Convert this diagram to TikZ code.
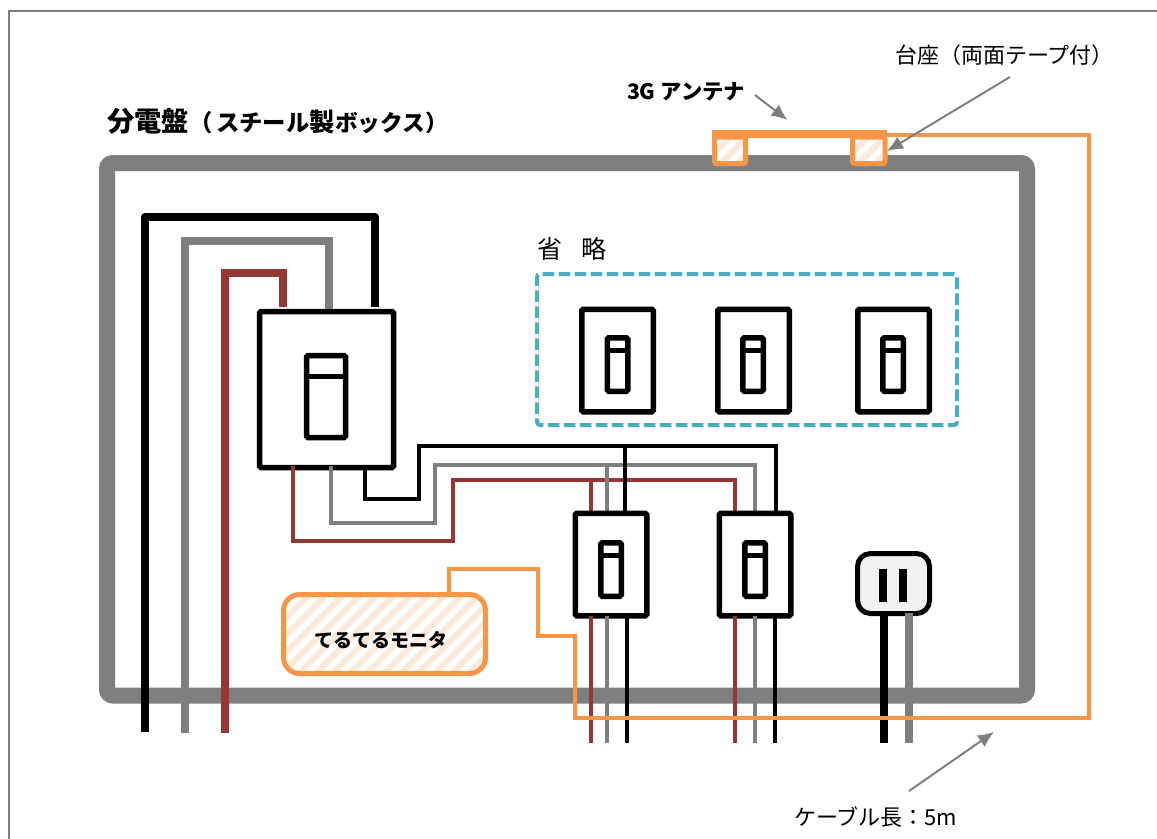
\documentclass[tikz,border=0pt]{standalone}
\usepackage{fontspec}
\setmainfont{Noto Sans CJK JP}
\usetikzlibrary{arrows.meta}
\definecolor{cabgray}{HTML}{7F7F7F}
\definecolor{wirered}{HTML}{953735}
\definecolor{ant}{HTML}{F79646}
\definecolor{stripe}{HTML}{FDE9D9}
\definecolor{dashblue}{HTML}{4BACC6}
\definecolor{plate}{HTML}{F2F2F2}
\def\px{0.75pt}
\tikzset{
  cabinet/.style={draw=cabgray,line width=16*\px,rounded corners=6*\px},
  frameline/.style={draw=cabgray,line width=2*\px},
  heavyk/.style={draw=black,line width=8*\px,line join=round},
  heavyg/.style={draw=cabgray,line width=8*\px},
  heavyr/.style={draw=wirered,line width=8*\px},
  think/.style={draw=black,line width=4*\px},
  thing/.style={draw=cabgray,line width=4*\px},
  thinr/.style={draw=wirered,line width=4*\px},
  cable/.style={draw=ant,line width=4*\px},
  plainbox/.style={draw=black,fill=white,line width=5.5*\px,rounded corners=1.5*\px,outer sep=0pt,inner sep=0pt},
  breaker/.style={plainbox,minimum width=71.5*\px,minimum height=102.5*\px},
  toggle/.style={plainbox,minimum width=20.5*\px,minimum height=53.5*\px},
  pointer/.style={draw=cabgray,line width=2*\px,-{Latex[length=16*\px,width=14*\px]}},
  stripeline/.style={draw=stripe,line width=6*\px},
  antbox/.style={draw=ant,line width=5*\px,rounded corners=2*\px,outer sep=0pt,inner sep=0pt},
  txt/.style={inner sep=0pt,outer sep=0pt,text=black,font=\fontsize{16.5pt}{20pt}\selectfont},
  boldtxt/.style={inner sep=0pt,outer sep=0pt,text=black,font=\bfseries\fontsize{16pt}{20pt}\selectfont},
}
% name, box centre x, box centre y, toggle centre x, toggle centre y
\newcommand{\brk}[5]{%
  \node[breaker] (#1) at (#2,#3) {};
  \node[toggle] (#1t) at (#4,#5) {};
  \draw[draw=black,line width=5*\px] (#1t.west |- 0,#5-14) -- (#1t.east |- 0,#5-14);
}
\newcommand{\fsz}[1]{\fontsize{#1pt}{24pt}\selectfont}
\begin{document}
\begin{tikzpicture}[x=0.75pt,y=-0.75pt]
\useasboundingbox (0,0) rectangle (1157,839);
% outer frame
\coordinate (fa) at (9,839); \coordinate (fb) at (9,11); \coordinate (fc) at (1157,11);
\draw[frameline] (fa) -- (fb) -- (fc);
% cabinet
\coordinate (cab1) at (107,163); \coordinate (cab2) at (1027,695.5);
\draw[cabinet] (cab1) rectangle (cab2);
% mains box
\node[plainbox,minimum width=134*\px,minimum height=156*\px] (main) at (326.5,389.5) {};
\node[plainbox,minimum width=39*\px,minimum height=82*\px] (maint) at (326,396.5) {};
\draw[draw=black,line width=5*\px] (maint.west |- 0,376) -- (maint.east |- 0,376);
% heavy feeds
\coordinate (k0) at (145,732); \coordinate (k1) at (145,217); \coordinate (k2) at (375,217); \coordinate (k3) at (375,307);
\coordinate (g0) at (185,733); \coordinate (g1) at (185,241); \coordinate (g2) at (329,241); \coordinate (g3) at (329,309);
\coordinate (r0) at (225,733); \coordinate (r1) at (225,273); \coordinate (r2) at (283,273); \coordinate (r3) at (283,307);
\draw[heavyk] (k0) -- (k1) -- (k2) -- (k3);
\draw[heavyg] (g0) -- (g1) -- (g2) -- (g3);
\draw[heavyr] (r0) -- (r1) -- (r2) -- (r3);
% thin buses
\coordinate (ks) at (365,466); \coordinate (ka) at (365,498.5); \coordinate (kb) at (419,498.5); \coordinate (kc) at (419,446); \coordinate (kd) at (775.5,446); \coordinate (ke) at (775.5,513);
\coordinate (gs) at (331,466); \coordinate (ga) at (331,523); \coordinate (gb) at (435,523); \coordinate (gc) at (435,465); \coordinate (gd) at (755,465); \coordinate (ge) at (755,513);
\coordinate (rs) at (293,466); \coordinate (ra) at (293,541); \coordinate (rb) at (453,541); \coordinate (rc) at (453,479.5); \coordinate (rd) at (735,479.5); \coordinate (re) at (735,513);
\draw[thinr] (rs) -- (ra) -- (rb) -- (rc) -- (rd) -- (re);
\draw[thing] (gs) -- (ga) -- (gb) -- (gc) -- (gd) -- (ge);
\draw[think] (ks) -- (ka) -- (kb) -- (kc) -- (kd) -- (ke);
% branches to breaker A
\coordinate (ra1) at (591,479.5); \coordinate (ra2) at (591,513);
\coordinate (ga1) at (607,465); \coordinate (ga2) at (607,513);
\coordinate (ka1) at (625,446); \coordinate (ka2) at (625,513);
\draw[thinr] (ra1) -- (ra2);
\draw[thing] (ga1) -- (ga2);
\draw[think] (ka1) -- (ka2);
% branch breakers
\brk{brA}{611}{564.5}{611}{569.5}
\brk{brB}{755}{564.5}{755}{569.5}
% omitted breakers
\brk{om1}{617.5}{360.5}{617.5}{364.5}
\brk{om2}{753.5}{360.5}{753}{364.5}
\brk{om3}{893.5}{360.5}{893}{364.5}
\node[draw=dashblue,line width=4*\px,dash pattern=on 11.5*\px off 4.5*\px,rounded corners=3*\px,minimum width=420*\px,minimum height=151*\px,inner sep=0pt,outer sep=0pt] (omit) at (747,349.5) {};
\node[txt,font=\fontsize{18.75pt}{22pt}\selectfont] (omitlabel) at (572,249) {\spaceskip=14pt 省 略};
% wires below breakers
\coordinate (a1) at (591,743); \coordinate (a2) at (607,743); \coordinate (a3) at (627,743);
\coordinate (b1) at (735,743); \coordinate (b2) at (755,743); \coordinate (b3) at (775,743);
\draw[thinr] (brA.south -| a1) -- (a1);
\draw[thing] (brA.south -| a2) -- (a2);
\draw[think] (brA.south -| a3) -- (a3);
\draw[thinr] (brB.south -| b1) -- (b1);
\draw[thing] (brB.south -| b2) -- (b2);
\draw[think] (brB.south -| b3) -- (b3);
% outlet
\node[draw=black,fill=plate,line width=5*\px,rounded corners=13*\px,minimum width=72*\px,minimum height=60*\px,inner sep=0pt,outer sep=0pt] (outlet) at (893.5,583.5) {};
\fill[black] (879,569) rectangle (887,602);
\fill[black] (899,569) rectangle (907,602);
\coordinate (o1) at (883.5,743); \coordinate (o2) at (909,743); \coordinate (o3) at (909,613);
\draw[heavyk] (outlet.south -| o1) -- (o1);
\draw[heavyg] (o3) -- (o2);
% monitor
\begin{scope}
\clip[rounded corners=16*\px] (283.5,594.5) rectangle (485.5,673.5);
\foreach \i in {190,207,...,500}{\draw[stripeline] (\i,680) -- ({\i+95},585);}
\end{scope}
\node[antbox,rounded corners=16*\px,minimum width=202*\px,minimum height=79*\px] (monitor) at (384.5,634) {};
\node[boldtxt,font=\bfseries\fontsize{14.3pt}{18pt}\selectfont] (monlabel) at (381,640) {てるてるモニタ};
% antenna feet with stripes
\begin{scope}
\clip (714.5,137) rectangle (745.5,163.5);
\fill[white] (714.5,137) rectangle (745.5,163.5);
\foreach \i in {680,697,...,750}{\draw[stripeline] (\i,170) -- ({\i+35},135);}
\end{scope}
\begin{scope}
\clip (852.5,137) rectangle (885,163.5);
\fill[white] (852.5,137) rectangle (885,163.5);
\foreach \i in {818,835,...,890}{\draw[stripeline] (\i,170) -- ({\i+35},135);}
\end{scope}
\node[antbox,minimum width=31*\px,minimum height=26.5*\px] (foot1) at (730,150.25) {};
\node[antbox,minimum width=32.5*\px,minimum height=26.5*\px] (foot2) at (868.75,150.25) {};
\node[fill=ant,minimum width=175*\px,minimum height=8*\px,inner sep=0pt,outer sep=0pt] (bar) at (799.5,134) {};
% cable
\coordinate (c1) at (1088.5,135); \coordinate (c2) at (1088.5,718); \coordinate (c3) at (575,718);
\coordinate (c4) at (575,636); \coordinate (c5) at (538,636); \coordinate (c6) at (538,568.5); \coordinate (c7) at (449,568.5);
\draw[cable] (bar.east |- c1) -- (c1) -- (c2) -- (c3) -- (c4) -- (c5) -- (c6) -- (c7) -- (c7 |- monitor.north);
% labels
\node[boldtxt,anchor=west] (title) at (107,121) {\fsz{20.5}分電盤\fsz{17.5}（\kern3pt スチール\fsz{19}製\fsz{17}ボックス）};
\node[boldtxt,anchor=west] (antlabel) at (627,91.5) {3G アンテナ};
\node[txt,anchor=west] (baselabel) at (895,55) {台座（両面テープ付）};
\node[txt,anchor=west] (cablelabel) at (794,817) {ケーブル長：5m};
% pointers
\coordinate (p1) at (755,95); \coordinate (t1) at (787.5,120);
\coordinate (p2) at (1010,77); \coordinate (t2) at (887,151);
\coordinate (p3) at (909,791); \coordinate (t3) at (994,732);
\draw[pointer] (p1) -- (t1);
\draw[pointer] (p2) -- (t2);
\draw[pointer] (p3) -- (t3);
\end{tikzpicture}
\end{document}
